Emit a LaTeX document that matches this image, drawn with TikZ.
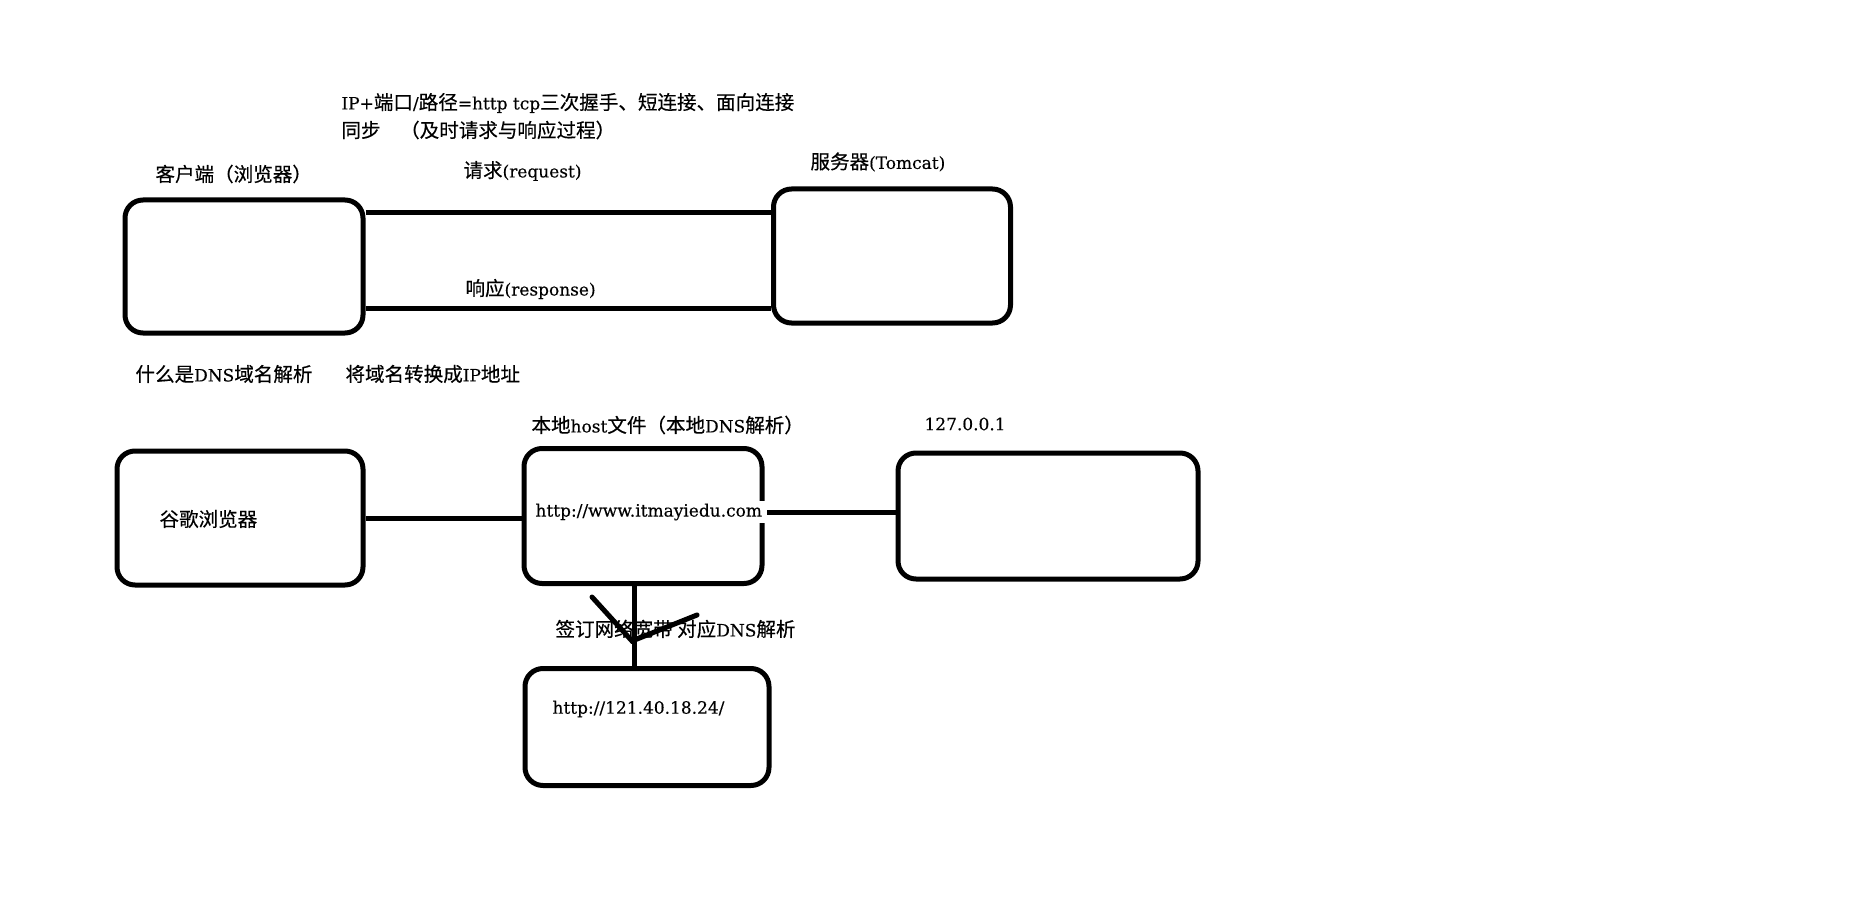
\documentclass[tikz,border=0pt]{standalone}
\usepackage{fontspec}
\setmainfont{DejaVu Serif}[FakeBold=0.3]
\newfontfamily\cjk{Noto Sans CJK SC}[Scale=1.15, FakeBold=0.4]
\begin{document}
\begin{tikzpicture}[x=1pt, y=-1pt, line width=5pt,
every node/.style={font=\fontsize{17}{20}\selectfont},
box/.style={draw, rounded corners=18pt, line width=5pt},
lbl/.style={anchor=west, inner sep=2pt},
]
\useasboundingbox (0,0) rectangle (1876,917);
% boxes
\node (client) [box, minimum width=238pt, minimum height=133pt] at (244,266.5) {};
\node (server) [box, minimum width=237pt, minimum height=134pt] at (892,256) {};
\node (browser) [box, minimum width=246pt, minimum height=134pt] at (240,518) {};
\node (host) [box, minimum width=238pt, minimum height=135pt] at (643,516) {};
\node (loopback) [box, minimum width=300pt, minimum height=126pt] at (1048,516) {};
\node (dnsip) [box, minimum width=244pt, minimum height=117pt] at (647,727) {};
% labels
\node (top1) [lbl] at (337,103) {IP+{\cjk 端口}/{\cjk 路径}=http tcp{\cjk 三次握手、短连接、面向连接}};
\node (top2) [lbl] at (337,130) {{\cjk 同步\quad （及时请求与响应过程）}};
\node (clientlbl) [lbl] at (151,174) {{\cjk 客户端（浏览器）}};
\node (reqlbl) [lbl] at (459,171) {{\cjk 请求}(request)};
\node (srvlbl) [lbl] at (806,162) {{\cjk 服务器}(Tomcat)};
\node (resplbl) [lbl] at (461,289) {{\cjk 响应}(response)};
\node (dnsq) [lbl] at (131,374) {{\cjk 什么是}DNS{\cjk 域名解析}};
\node (dnsa) [lbl] at (341,374) {{\cjk 将域名转换成}IP{\cjk 地址}};
\node (hostlbl) [lbl] at (527,425) {{\cjk 本地}host{\cjk 文件（本地}DNS{\cjk 解析）}};
\node (looplbl) [lbl] at (920,424) {127.0.0.1};
\node (browserlbl) [lbl] at (155,519) {{\cjk 谷歌浏览器}};
\node (url1) [lbl, fill=white, inner sep=3pt] at (530,512) {http://www.itmayiedu.com};
\node (signlbl) [lbl] at (551,629) {{\cjk 签订网络宽带 对应}DNS{\cjk 解析}};
\node (url2) [lbl] at (548,709) {http://121.40.18.24/};
% connectors
\draw ([yshift=-15pt]client.north east) -- ([yshift=-15pt]client.north east -| server.west);
\draw ([yshift=27pt]client.south east) -- ([yshift=27pt]client.south east -| server.west);
\draw (browser.east) -- (browser.east -| host.west);
\draw (url1.east) -- (url1.east -| loopback.west);
\draw ([xshift=-9pt]host.south) -- ([xshift=-9pt]host.south |- dnsip.north);
\coordinate (vl) at (592,597);
\coordinate (vtip) at (632,641);
\coordinate (vr) at (697,615);
\draw[line cap=round] (vl) -- (vtip) -- (vr);
\end{tikzpicture}
\end{document}
